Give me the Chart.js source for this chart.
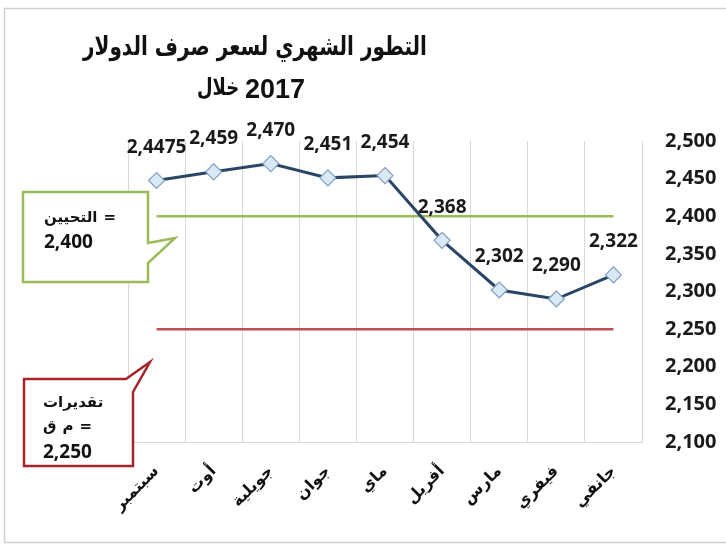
<!DOCTYPE html>
<html>
<head>
<meta charset="utf-8">
<script src="https://cdn.jsdelivr.net/npm/chart.js@4/dist/chart.umd.min.js"></script>
<style>
  html, body { margin: 0; padding: 0; background: #fff; }
  #wrap { width: 726px; height: 548px; }
</style>
</head>
<body>
<div id="wrap"><canvas id="rateChart" width="726" height="548"></canvas></div>
<script>
// ====== DATA ======
const months = ["جانفي", "فيفري", "مارس", "أفريل", "ماي", "جوان", "جويلية", "أوت", "سبتمبر"];
const rates = [2322, 2290, 2302, 2368, 2454, 2451, 2470, 2459, 2447.5];
const rateLabels = ["2,322", "2,290", "2,302", "2,368", "2,454", "2,451", "2,470", "2,459", "2,4475"];
const updateLine = [2400, 2400, 2400, 2400, 2400, 2400, 2400, 2400, 2400];
const budgetLine = [2250, 2250, 2250, 2250, 2250, 2250, 2250, 2250, 2250];
const yMin = 2100;
const yMax = 2500;
const yStep = 50;

const titleText = "التطور الشهري لسعر صرف الدولار";
const titleWord = "خلال";
const titleYear = "2017";

const NUM_FONT = "bold 19px 'Open Sans', sans-serif";
const AR_FONT = "'DejaVu Sans', sans-serif";

function fmt(v) {
  return v.toLocaleString("en-US");
}

// draws a row of pieces left to right, so bidi never reorders them
function drawRow(c, pieces, x, y, gap) {
  pieces.forEach((p) => {
    c.font = p.font;
    c.fillText(p.text, x, y);
    x += c.measureText(p.text).width + gap;
  });
}

// ====== DECORATION: frame, title, value labels, callouts ======
const decor = {
  id: "decor",
  beforeDraw(chart) {
    const c = chart.ctx;
    c.save();
    c.fillStyle = "#fff";
    c.fillRect(0, 0, chart.width, chart.height);
    c.strokeStyle = "#d0d0d0";
    c.lineWidth = 1.5;
    c.strokeRect(4.5, 8.5, 730, 534);

    c.fillStyle = "#111";
    c.direction = "ltr";
    c.textBaseline = "middle";

    // title line 1 (slightly stretched vertically like the original)
    c.save();
    c.translate(255, 48);
    c.scale(1, 1.3);
    c.textAlign = "center";
    c.font = "bold 20px " + AR_FONT;
    c.fillText(titleText, 0, 0);
    c.restore();

    // title line 2: word on the left, year on the right
    c.save();
    c.translate(0, 89);
    c.scale(1, 1.3);
    c.textAlign = "left";
    c.font = "bold 18px " + AR_FONT;
    c.fillText(titleWord, 197, 0);
    c.restore();
    c.textAlign = "left";
    c.font = "bold 27px 'Liberation Sans', sans-serif";
    c.fillText(titleYear, 245, 91);
    c.restore();
  },
  afterDatasetsDraw(chart) {
    const c = chart.ctx;
    const meta = chart.getDatasetMeta(0);
    c.save();
    c.fillStyle = "#1a1a1a";
    c.font = NUM_FONT;
    c.textAlign = "center";
    c.textBaseline = "middle";
    meta.data.forEach((pt, i) => {
      c.fillText(rateLabels[i], pt.x, pt.y - 33);
    });
    c.restore();
  },
  afterDraw(chart) {
    const c = chart.ctx;
    c.save();
    c.lineJoin = "miter";

    // green callout (التحيين)
    c.beginPath();
    c.moveTo(23, 192);
    c.lineTo(148, 192);
    c.lineTo(148, 243);
    c.lineTo(175, 238);
    c.lineTo(148, 263);
    c.lineTo(148, 282);
    c.lineTo(23, 282);
    c.closePath();
    c.fillStyle = "#fff";
    c.fill();
    c.strokeStyle = "#9bbb59";
    c.lineWidth = 2.5;
    c.stroke();

    // red callout (تقديرات ق م)
    c.beginPath();
    c.moveTo(24, 379);
    c.lineTo(126, 379);
    c.lineTo(150, 362);
    c.lineTo(133, 392);
    c.lineTo(133, 466);
    c.lineTo(24, 466);
    c.closePath();
    c.fillStyle = "#fff";
    c.fill();
    c.strokeStyle = "#a5252a";
    c.lineWidth = 2.5;
    c.stroke();

    c.fillStyle = "#111";
    c.direction = "ltr";
    c.textAlign = "left";
    c.textBaseline = "alphabetic";
    const arSmall = "bold 15px " + AR_FONT;
    drawRow(c, [{ text: "التحيين", font: arSmall }, { text: "=", font: arSmall }], 44, 222, 6);
    c.font = NUM_FONT;
    c.fillText("2,400", 44, 248);

    c.font = arSmall;
    c.fillText("تقديرات", 43, 407);
    drawRow(c, [
      { text: "ق", font: arSmall },
      { text: "م", font: arSmall },
      { text: "=", font: arSmall }
    ], 43, 431, 6);
    c.font = NUM_FONT;
    c.fillText("2,250", 43, 458);
    c.restore();
  }
};

// ====== CHART ======
const ctx = document.getElementById("rateChart").getContext("2d");

const rateChart = new Chart(ctx, {
  type: "line",
  data: {
    labels: months,
    datasets: [
      {
        label: "سعر الصرف",
        data: rates,
        borderColor: "#2b4566",
        borderWidth: 3,
        pointStyle: "rectRot",
        pointRadius: 8,
        pointBackgroundColor: "#d9eaf6",
        pointBorderColor: "#7e9ec4",
        pointBorderWidth: 1.2,
        tension: 0,
        order: 0
      },
      {
        label: "التحيين",
        data: updateLine,
        borderColor: "#9bbb59",
        borderWidth: 2.5,
        pointRadius: 0,
        order: 1
      },
      {
        label: "تقديرات ق م",
        data: budgetLine,
        borderColor: "#c0504d",
        borderWidth: 2.5,
        pointRadius: 0,
        order: 1
      }
    ]
  },
  options: {
    responsive: false,
    animation: false,
    events: [],
    layout: {
      padding: { left: 128, top: 141, right: 0, bottom: 0 }
    },
    plugins: {
      legend: { display: false },
      title: { display: false },
      tooltip: { enabled: false }
    },
    scales: {
      x: {
        reverse: true,
        offset: true,
        afterFit: (s) => { s.height = 106; },
        grid: {
          offset: true,
          color: "#d9d9d9",
          lineWidth: 1,
          drawTicks: false
        },
        border: { color: "#d9d9d9", width: 1 },
        ticks: {
          minRotation: 45,
          maxRotation: 45,
          autoSkip: false,
          padding: 20,
          color: "#111",
          font: { family: "DejaVu Sans", size: 16, weight: "bold" }
        }
      },
      y: {
        position: "right",
        min: yMin,
        max: yMax,
        afterFit: (s) => { s.width = 84; },
        grid: { display: false, drawTicks: false },
        border: { color: "#d9d9d9", width: 1 },
        ticks: {
          stepSize: yStep,
          padding: 23,
          color: "#1a1a1a",
          font: { family: "Open Sans", size: 20, weight: "bold" },
          callback: (v) => fmt(v)
        }
      }
    }
  },
  plugins: [decor]
});
</script>
</body>
</html>
